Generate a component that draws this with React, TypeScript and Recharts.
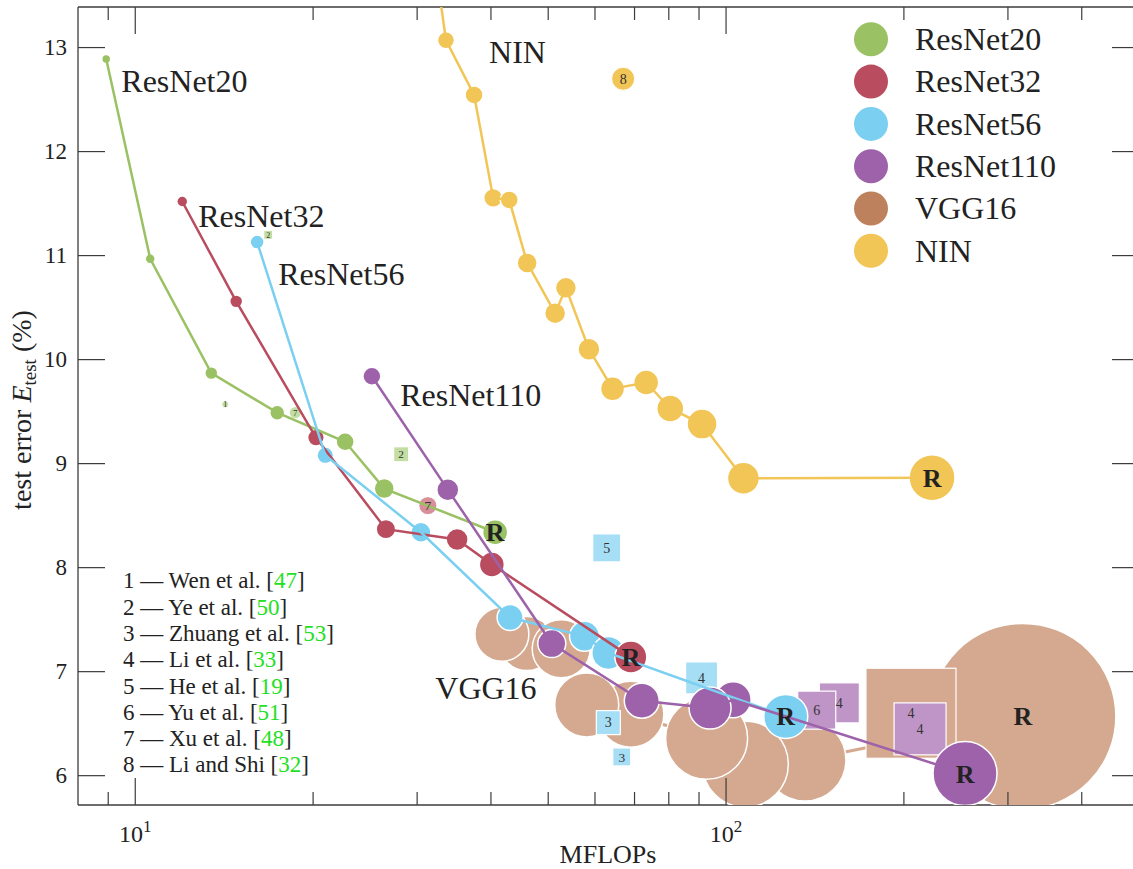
import React from 'react';
import { ScatterChart, Scatter, XAxis, YAxis, ZAxis } from 'recharts';

const FONT = "'Liberation Serif', 'Times New Roman', Times, serif";
const AXIS_COLOR = '#3c3c3c';
const TEXT_COLOR = '#222222';

// ---------------- data ----------------
type Pt = { mflops: number; err: number; params: number; ref?: boolean };
type Comp = { mflops: number; err: number; params: number; cite: number; model: string; kind: 'square' | 'circle' };
type Lbl = { mflops: number; err: number; text: string };

const seriesNames = ['ResNet20', 'ResNet32', 'ResNet56', 'ResNet110', 'VGG16', 'NIN'];

const resnet20: Pt[] = [
  { mflops: 8.93, err: 12.89, params: 2.0 },
  { mflops: 10.6, err: 10.97, params: 2.5 },
  { mflops: 13.45, err: 9.87, params: 4.2 },
  { mflops: 17.39, err: 9.49, params: 5.6 },
  { mflops: 22.66, err: 9.21, params: 8.1 },
  { mflops: 26.39, err: 8.76, params: 10 },
  { mflops: 40.66, err: 8.34, params: 15.6, ref: true },
];

const resnet32: Pt[] = [
  { mflops: 12.01, err: 11.52, params: 3.0 },
  { mflops: 14.82, err: 10.56, params: 4.2 },
  { mflops: 20.22, err: 9.25, params: 6.9 },
  { mflops: 26.56, err: 8.37, params: 9.4 },
  { mflops: 35.06, err: 8.27, params: 12.1 },
  { mflops: 40.14, err: 8.03, params: 15.6 },
  { mflops: 69.0, err: 7.14, params: 25.6, ref: true },
];

const resnet56: Pt[] = [
  { mflops: 16.08, err: 11.13, params: 4.9 },
  { mflops: 20.97, err: 9.08, params: 6.9 },
  { mflops: 30.44, err: 8.34, params: 10 },
  { mflops: 43.1, err: 7.52, params: 16.9 },
  { mflops: 57.6, err: 7.34, params: 22.5 },
  { mflops: 63.2, err: 7.18, params: 27.2 },
  { mflops: 126.2, err: 6.57, params: 48.4, ref: true },
];

const resnet110: Pt[] = [
  { mflops: 25.15, err: 9.84, params: 8.1 },
  { mflops: 33.81, err: 8.75, params: 12.1 },
  { mflops: 50.7, err: 7.27, params: 19.6 },
  { mflops: 72.0, err: 6.72, params: 30.6 },
  { mflops: 102.8, err: 6.73, params: 32.4 },
  { mflops: 93.96, err: 6.65, params: 44.1 },
  { mflops: 253.8, err: 6.02, params: 102.4, ref: true },
];

const vgg16: Pt[] = [
  { mflops: 318, err: 6.57, params: 864.9, ref: true },
  { mflops: 136.0, err: 6.15, params: 168.1 },
  { mflops: 107.8, err: 6.11, params: 184.9 },
  { mflops: 92.7, err: 6.36, params: 168.1 },
  { mflops: 69.0, err: 6.59, params: 108.9 },
  { mflops: 46.0, err: 7.27, params: 72.9 },
  { mflops: 52.6, err: 7.22, params: 84.1 },
  { mflops: 58.1, err: 6.68, params: 102.4 },
  { mflops: 41.74, err: 7.36, params: 72.9 },
];

const nin: Pt[] = [
  { mflops: 32.3, err: 13.75, params: 6.4 },
  { mflops: 33.57, err: 13.07, params: 7.2 },
  { mflops: 37.45, err: 12.545, params: 8.1 },
  { mflops: 40.35, err: 11.555, params: 9.0 },
  { mflops: 42.95, err: 11.535, params: 8.1 },
  { mflops: 46.06, err: 10.93, params: 10 },
  { mflops: 51.37, err: 10.446, params: 11 },
  { mflops: 53.57, err: 10.69, params: 11 },
  { mflops: 58.6, err: 10.1, params: 12.1 },
  { mflops: 64.25, err: 9.72, params: 14.4 },
  { mflops: 73.25, err: 9.78, params: 15.6 },
  { mflops: 80.46, err: 9.53, params: 18.2 },
  { mflops: 91.07, err: 9.38, params: 22.5 },
  { mflops: 107, err: 8.86, params: 25.6 },
  { mflops: 223.2, err: 8.865, params: 52.9, ref: true },
];

const comparisons: Comp[] = [
  { mflops: 14.2, err: 9.57, params: 1.2, cite: 1, model: 'ResNet20', kind: 'circle' },
  { mflops: 18.66, err: 9.49, params: 3.6, cite: 7, model: 'ResNet20', kind: 'circle' },
  { mflops: 16.79, err: 11.2, params: 2.6, cite: 2, model: 'ResNet20', kind: 'square' },
  { mflops: 28.19, err: 9.09, params: 7.2, cite: 2, model: 'ResNet20', kind: 'square' },
  { mflops: 31.28, err: 8.596, params: 8.1, cite: 7, model: 'ResNet32', kind: 'circle' },
  { mflops: 62.8, err: 8.19, params: 25, cite: 5, model: 'ResNet56', kind: 'square' },
  { mflops: 63.2, err: 6.51, params: 18.3, cite: 3, model: 'ResNet56', kind: 'square' },
  { mflops: 66.6, err: 6.18, params: 10.3, cite: 3, model: 'ResNet56', kind: 'square' },
  { mflops: 90.9, err: 6.94, params: 32.6, cite: 4, model: 'ResNet56', kind: 'square' },
  { mflops: 155.5, err: 6.7, params: 51, cite: 4, model: 'ResNet110', kind: 'square' },
  { mflops: 142.4, err: 6.63, params: 46, cite: 6, model: 'ResNet110', kind: 'square' },
  { mflops: 205.6, err: 6.6, params: 258, cite: 4, model: 'VGG16', kind: 'square' },
  { mflops: 213, err: 6.45, params: 86, cite: 4, model: 'ResNet110', kind: 'square' },
  { mflops: 66.96, err: 12.7, params: 13.2, cite: 8, model: 'NIN', kind: 'circle' },
];

const seriesLabels: Lbl[] = [
  { mflops: 9.47, err: 12.577, text: 'ResNet20' },
  { mflops: 12.78, err: 11.279, text: 'ResNet32' },
  { mflops: 17.46, err: 10.718, text: 'ResNet56' },
  { mflops: 28.08, err: 9.555, text: 'ResNet110' },
  { mflops: 39.7, err: 12.85, text: 'NIN' },
  { mflops: 32.2, err: 6.735, text: 'VGG16' },
];

const citeNumbers = [1, 2, 3, 4, 5, 6, 7, 8];
const citeAuthors = ['Wen et al.', 'Ye et al.', 'Zhuang et al.', 'Li et al.', 'He et al.', 'Yu et al.', 'Xu et al.', 'Li and Shi'];
const citeRefs = [47, 50, 53, 33, 19, 51, 48, 32];

const xTicks = [9, 10, 20, 30, 40, 50, 60, 70, 80, 90, 100, 200, 300, 400];
const yTicks = [6, 7, 8, 9, 10, 11, 12, 13];
const xDomain: [number, number] = [8, 500];
const yDomain: [number, number] = [5.718, 13.39];

// ---------------- styles ----------------
const seriesColors: Record<string, string> = {
  ResNet20: '#9AC163',
  ResNet32: '#B94D5F',
  ResNet56: '#7BCFF0',
  ResNet110: '#9D62AA',
  VGG16: '#BE815D',
  NIN: '#F2C557',
};
const VGG_BUBBLE = '#D4A990';
const compColors: Record<string, string> = {
  ResNet20: '#C3DEA2',
  ResNet32: '#D88F9A',
  ResNet56: '#A6DEF6',
  ResNet110: '#BF95C7',
  VGG16: '#D4A990',
  NIN: '#F2C557',
};

const byX = (a: Pt[]) => [...a].sort((p, q) => p.mflops - q.mflops);
const refPoints: Pt[] = [...vgg16, ...nin, ...resnet20, ...resnet32, ...resnet56, ...resnet110].filter((p) => p.ref);

const sizeOf = (p: any) => {
  const s = Number(p.size);
  return Number.isFinite(s) && s > 0 ? s : 60;
};

const makeBubble = (fill: string) => (p: any) => {
  if (p.cx == null || p.cy == null) return <g />;
  const r = Math.sqrt(sizeOf(p) / Math.PI);
  return <circle cx={p.cx} cy={p.cy} r={r} fill={fill} stroke="#ffffff" strokeWidth={1.5} />;
};

const refLabelShape = (p: any) => {
  if (p.cx == null || p.cy == null) return <g />;
  return (
    <text x={p.cx} y={p.cy + 9} textAnchor="middle" fontFamily={FONT} fontWeight="bold" fontSize={26} fill={TEXT_COLOR}>
      R
    </text>
  );
};

const noShape = () => <g />;

const compDim = (p: any) => {
  const d: Comp = p.payload;
  const size = sizeOf(p);
  return d.kind === 'square' ? Math.sqrt(size) : 2 * Math.sqrt(size / Math.PI);
};

const compShape = (p: any) => {
  if (p.cx == null || p.cy == null) return <g />;
  const d: Comp = p.payload;
  const color = compColors[d.model];
  const dim = compDim(p);
  if (d.kind === 'square') {
    return <rect x={p.cx - dim / 2} y={p.cy - dim / 2} width={dim} height={dim} fill={color} stroke="#ffffff" strokeWidth={1.2} />;
  }
  return <circle cx={p.cx} cy={p.cy} r={dim / 2} fill={color} stroke="#ffffff" strokeWidth={1} />;
};

const compLabelShape = (p: any) => {
  if (p.cx == null || p.cy == null) return <g />;
  const d: Comp = p.payload;
  const fs = Math.max(8, Math.min(14, compDim(p) * 0.75));
  return (
    <text x={p.cx} y={p.cy + fs * 0.34} textAnchor="middle" fontFamily={FONT} fontSize={fs} fill="#333">
      {d.cite}
    </text>
  );
};

const labelShape = (p: any) => {
  if (p.cx == null || p.cy == null) return <g />;
  return (
    <text x={p.cx} y={p.cy} fontFamily={FONT} fontSize={32} fill={TEXT_COLOR}>
      {p.payload.text}
    </text>
  );
};

const isMajorX = (v: number) => v === 10 || v === 100;

const BottomTick = (p: any) => {
  const v = p.payload.value;
  const major = isMajorX(v);
  return (
    <g>
      <line x1={p.x} x2={p.x} y1={p.y} y2={p.y - (major ? 27 : 13)} stroke={AXIS_COLOR} strokeWidth={1.2} />
      {major ? (
        <text x={p.x} y={p.y + 37} textAnchor="middle" fontFamily={FONT} fontSize={24} fill={TEXT_COLOR}>
          10
          <tspan dy={-10} fontSize={17}>
            {Math.round(Math.log10(v))}
          </tspan>
        </text>
      ) : null}
    </g>
  );
};

const TopTick = (p: any) => {
  const v = p.payload.value;
  const major = isMajorX(v);
  return <line x1={p.x} x2={p.x} y1={p.y} y2={p.y + (major ? 27 : 13)} stroke={AXIS_COLOR} strokeWidth={1.2} />;
};

const LeftTick = (p: any) => (
  <g>
    <line x1={p.x} x2={p.x + 27} y1={p.y} y2={p.y} stroke={AXIS_COLOR} strokeWidth={1.2} />
    <text x={p.x - 11} y={p.y + 7.5} textAnchor="end" fontFamily={FONT} fontSize={23} fill={TEXT_COLOR}>
      {p.payload.value}
    </text>
  </g>
);

const RightTick = (p: any) => <line x1={p.x} x2={p.x - 27} y1={p.y} y2={p.y} stroke={AXIS_COLOR} strokeWidth={1.2} />;

// marker drawing order and line drawing order
const markerSeries: { name: string; data: Pt[] }[] = [
  { name: 'NIN', data: nin },
  { name: 'ResNet20', data: resnet20 },
  { name: 'ResNet56', data: resnet56 },
  { name: 'ResNet32', data: resnet32 },
  { name: 'ResNet110', data: resnet110 },
];
const lineSeries: { name: string; data: Pt[] }[] = [
  { name: 'NIN', data: nin },
  { name: 'ResNet20', data: resnet20 },
  { name: 'ResNet32', data: resnet32 },
  { name: 'ResNet56', data: resnet56 },
  { name: 'ResNet110', data: resnet110 },
];

export default function App() {
  const axisLine = { stroke: AXIS_COLOR, strokeWidth: 1.3 };
  return (
    <div style={{ position: 'absolute', left: 0, top: 0, width: 1133, height: 869, overflow: 'hidden', background: '#ffffff' }}>
      <ScatterChart width={1141} height={869} margin={{ top: 0, right: 0, bottom: 0, left: 0 }}>
        <XAxis
          xAxisId="bottom"
          dataKey="mflops"
          type="number"
          scale="log"
          domain={xDomain}
          allowDataOverflow
          ticks={xTicks}
          interval={0}
          height={64}
          tickSize={0}
          tickMargin={0}
          tickLine={false}
          axisLine={axisLine}
          tick={BottomTick}
        />
        <XAxis
          xAxisId="top"
          orientation="top"
          dataKey="mflops"
          type="number"
          scale="log"
          domain={xDomain}
          allowDataOverflow
          ticks={xTicks}
          interval={0}
          height={7}
          tickSize={0}
          tickMargin={0}
          tickLine={false}
          axisLine={axisLine}
          tick={TopTick}
        />
        <YAxis
          yAxisId="left"
          dataKey="err"
          type="number"
          domain={yDomain}
          allowDataOverflow
          ticks={yTicks}
          interval={0}
          width={78}
          tickSize={0}
          tickMargin={0}
          tickLine={false}
          axisLine={axisLine}
          tick={LeftTick}
        />
        <YAxis
          yAxisId="right"
          orientation="right"
          dataKey="err"
          type="number"
          domain={yDomain}
          allowDataOverflow
          ticks={yTicks}
          interval={0}
          width={2}
          tickSize={0}
          tickMargin={0}
          tickLine={false}
          axisLine={axisLine}
          tick={RightTick}
        />
        <ZAxis dataKey="params" type="number" domain={[0, 1000]} range={[0, 31416]} />

        <Scatter
          name="VGG16-line"
          data={byX(vgg16)}
          xAxisId="bottom"
          yAxisId="left"
          isAnimationActive={false}
          line={{ stroke: VGG_BUBBLE, strokeWidth: 3 }}
          shape={noShape}
          legendType="none"
        />
        <Scatter
          name="VGG16"
          data={vgg16}
          xAxisId="bottom"
          yAxisId="left"
          isAnimationActive={false}
          fill={VGG_BUBBLE}
          shape={makeBubble(VGG_BUBBLE)}
          legendType="none"
        />
        <Scatter
          name="comparisons"
          data={comparisons}
          xAxisId="bottom"
          yAxisId="left"
          isAnimationActive={false}
          shape={compShape}
          legendType="none"
        />
        {markerSeries.map((s) => (
          <Scatter
            key={s.name}
            name={s.name}
            data={s.data}
            xAxisId="bottom"
            yAxisId="left"
            isAnimationActive={false}
            fill={seriesColors[s.name]}
            shape={makeBubble(seriesColors[s.name])}
            legendType="none"
          />
        ))}
        {lineSeries.map((s) => (
          <Scatter
            key={s.name + '-line'}
            name={s.name + '-line'}
            data={byX(s.data)}
            xAxisId="bottom"
            yAxisId="left"
            isAnimationActive={false}
            line={{ stroke: seriesColors[s.name], strokeWidth: 2.5 }}
            shape={noShape}
            legendType="none"
          />
        ))}
        <Scatter
          name="comparison-labels"
          data={comparisons}
          xAxisId="bottom"
          yAxisId="left"
          isAnimationActive={false}
          shape={compLabelShape}
          legendType="none"
        />
        <Scatter
          name="ref-labels"
          data={refPoints}
          xAxisId="bottom"
          yAxisId="left"
          isAnimationActive={false}
          shape={refLabelShape}
          legendType="none"
        />
        <Scatter
          name="labels"
          data={seriesLabels}
          xAxisId="bottom"
          yAxisId="left"
          isAnimationActive={false}
          shape={labelShape}
          legendType="none"
        />
      </ScatterChart>

      <svg width={1133} height={869} style={{ position: 'absolute', left: 0, top: 0, pointerEvents: 'none' }}>
        {seriesNames.map((n, i) => (
          <g key={n}>
            <circle cx={871} cy={39.3 + i * 42.3} r={17} fill={seriesColors[n]} />
            <text x={915} y={50 + i * 42.3} fontFamily={FONT} fontSize={32} fill={TEXT_COLOR}>
              {n}
            </text>
          </g>
        ))}
        {citeNumbers.map((n, i) => (
          <text key={n} x={123} y={588.3 + i * 26.3} fontFamily={FONT} fontSize={23} fill={TEXT_COLOR}>
            {`${n} \u2014 ${citeAuthors[i]} [`}
            <tspan fill="#22E022">{citeRefs[i]}</tspan>
            {']'}
          </text>
        ))}
        <text x={608} y={863} textAnchor="middle" fontFamily={FONT} fontSize={26} fill={TEXT_COLOR}>
          MFLOPs
        </text>
        <text
          x={31}
          y={410}
          transform="rotate(-90 31 410)"
          textAnchor="middle"
          fontFamily={FONT}
          fontSize={28}
          fill={TEXT_COLOR}
        >
          {'test error '}
          <tspan fontStyle="italic">E</tspan>
          <tspan fontSize={19} dy={5}>
            test
          </tspan>
          <tspan dy={-5}>{' (%)'}</tspan>
        </text>
      </svg>
    </div>
  );
}
